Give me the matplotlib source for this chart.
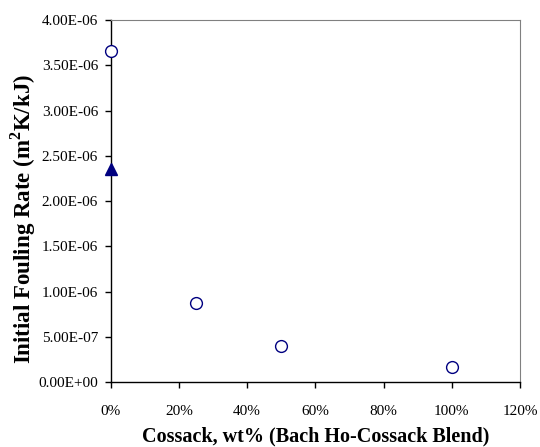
import matplotlib
matplotlib.use('Agg')
import matplotlib.pyplot as plt
import matplotlib.ticker as mtick

# Blend fraction (Cossack wt%) and initial fouling rate (m2K/kJ)
cossack_pct = [0.0, 0.25, 0.50, 1.00]
fouling_rate = [3.66e-6, 0.872e-6, 0.40e-6, 0.172e-6]

# Separate single run shown as filled triangle
tri_pct = [0.0]
tri_rate = [2.35e-6]

plt.rcParams['font.family'] = ['Liberation Serif', 'DejaVu Serif']
plt.rcParams['mathtext.fontset'] = 'custom'
plt.rcParams['mathtext.rm'] = 'Liberation Serif'
plt.rcParams['mathtext.bf'] = 'Liberation Serif:bold'

fig = plt.figure(figsize=(5.4, 4.47), dpi=100)
ax = fig.add_axes([110.7 / 540, 1 - 382.3 / 447, (520 - 110.7) / 540, (382.3 - 20) / 447])

ax.plot(cossack_pct, fouling_rate, linestyle='none', marker='o', markersize=8.5,
        markerfacecolor='white', markeredgecolor='#000080', markeredgewidth=1.0,
        clip_on=False, zorder=5)
ax.plot(tri_pct, tri_rate, linestyle='none', marker='^', markersize=9,
        markerfacecolor='#000080', markeredgecolor='#000080', clip_on=False, zorder=5)

ax.set_xlim(0, 1.2)
ax.set_ylim(0, 4e-6)
ax.set_xticks([0, 0.2, 0.4, 0.6, 0.8, 1.0, 1.2])
ax.xaxis.set_major_formatter(mtick.PercentFormatter(xmax=1.0, decimals=0))
ax.set_yticks([i * 0.5e-6 for i in range(9)])
ax.yaxis.set_major_formatter(mtick.FuncFormatter(lambda v, p: f'{v:.2E}'))

ax.tick_params(direction='out', length=4, width=1, labelsize=11, colors='black', pad=5)
ax.tick_params(axis='x', pad=12)
for side in ('top', 'right'):
    ax.spines[side].set_color('#808080')
for side in ('left', 'bottom'):
    ax.spines[side].set_color('black')
    ax.spines[side].set_linewidth(1.0)

ax.set_xlabel('Cossack, wt% (Bach Ho-Cossack Blend)', fontsize=14.5, fontweight='bold', labelpad=6.5)
ax.set_ylabel(r'Initial Fouling Rate (m$^\mathbf{2}$K/kJ)', fontsize=16.5, fontweight='bold')
ax.yaxis.set_label_coords(-0.178, 0.452)

fig.savefig('out.png', dpi=100)
